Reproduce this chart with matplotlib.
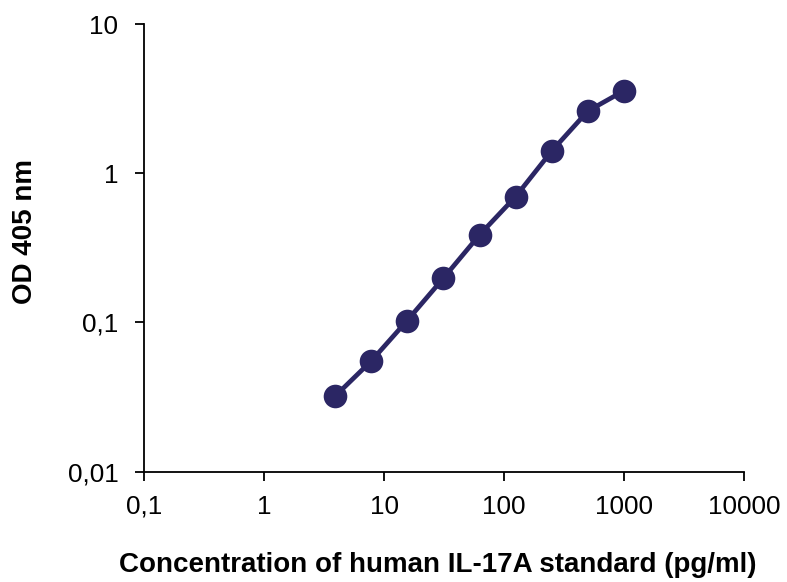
import matplotlib
matplotlib.use("Agg")
import matplotlib.pyplot as plt
from matplotlib.ticker import FixedLocator, FixedFormatter, NullLocator

conc = [3.9, 7.8, 15.6, 31.25, 62.5, 125, 250, 500, 1000]
od = [0.032, 0.055, 0.103, 0.198, 0.386, 0.697, 1.41, 2.61, 3.57]
xticks = [0.1, 1, 10, 100, 1000, 10000]
xticklabels = ["0,1", "1", "10", "100", "1000", "10000"]
yticks = [0.01, 0.1, 1, 10]
yticklabels = ["0,01", "0,1", "1", "10"]

plt.rcParams['font.family'] = ['Liberation Sans', 'DejaVu Sans']

fig = plt.figure(figsize=(7.87, 5.82), dpi=100)
ax = fig.add_axes([144/787, 1-471.7/582, 600/787, (471.7-24)/582])
color = "#2B2664"
ax.plot(conc, od, color=color, lw=3.4, marker='o', markersize=17,
        markeredgewidth=0, solid_capstyle='round', clip_on=False)
ax.set_xscale('log')
ax.set_yscale('log')
ax.set_xlim(0.1, 10000)
ax.set_ylim(0.01, 10)
ax.xaxis.set_major_locator(FixedLocator(xticks))
ax.xaxis.set_major_formatter(FixedFormatter(xticklabels))
ax.yaxis.set_major_locator(FixedLocator(yticks))
ax.yaxis.set_major_formatter(FixedFormatter(yticklabels))
ax.xaxis.set_minor_locator(NullLocator())
ax.yaxis.set_minor_locator(NullLocator())
for s in ['top', 'right']:
    ax.spines[s].set_visible(False)
for s in ['left', 'bottom']:
    ax.spines[s].set_linewidth(1.3)
ax.tick_params(axis='both', which='major', direction='out', length=6.5, width=1.3,
               labelsize=18.8, colors='black')
ax.tick_params(axis='y', pad=12)
ax.tick_params(axis='x', pad=10)
ax.set_xlabel("Concentration of human IL-17A standard (pg/ml)", fontsize=20,
              fontweight='bold')
ax.set_ylabel("OD 405 nm", fontsize=20, fontweight='bold')
ax.xaxis.set_label_coords(0.49, -0.18)
ax.yaxis.set_label_coords(-0.177, 0.536)
fig.savefig("out.png", dpi=100)
